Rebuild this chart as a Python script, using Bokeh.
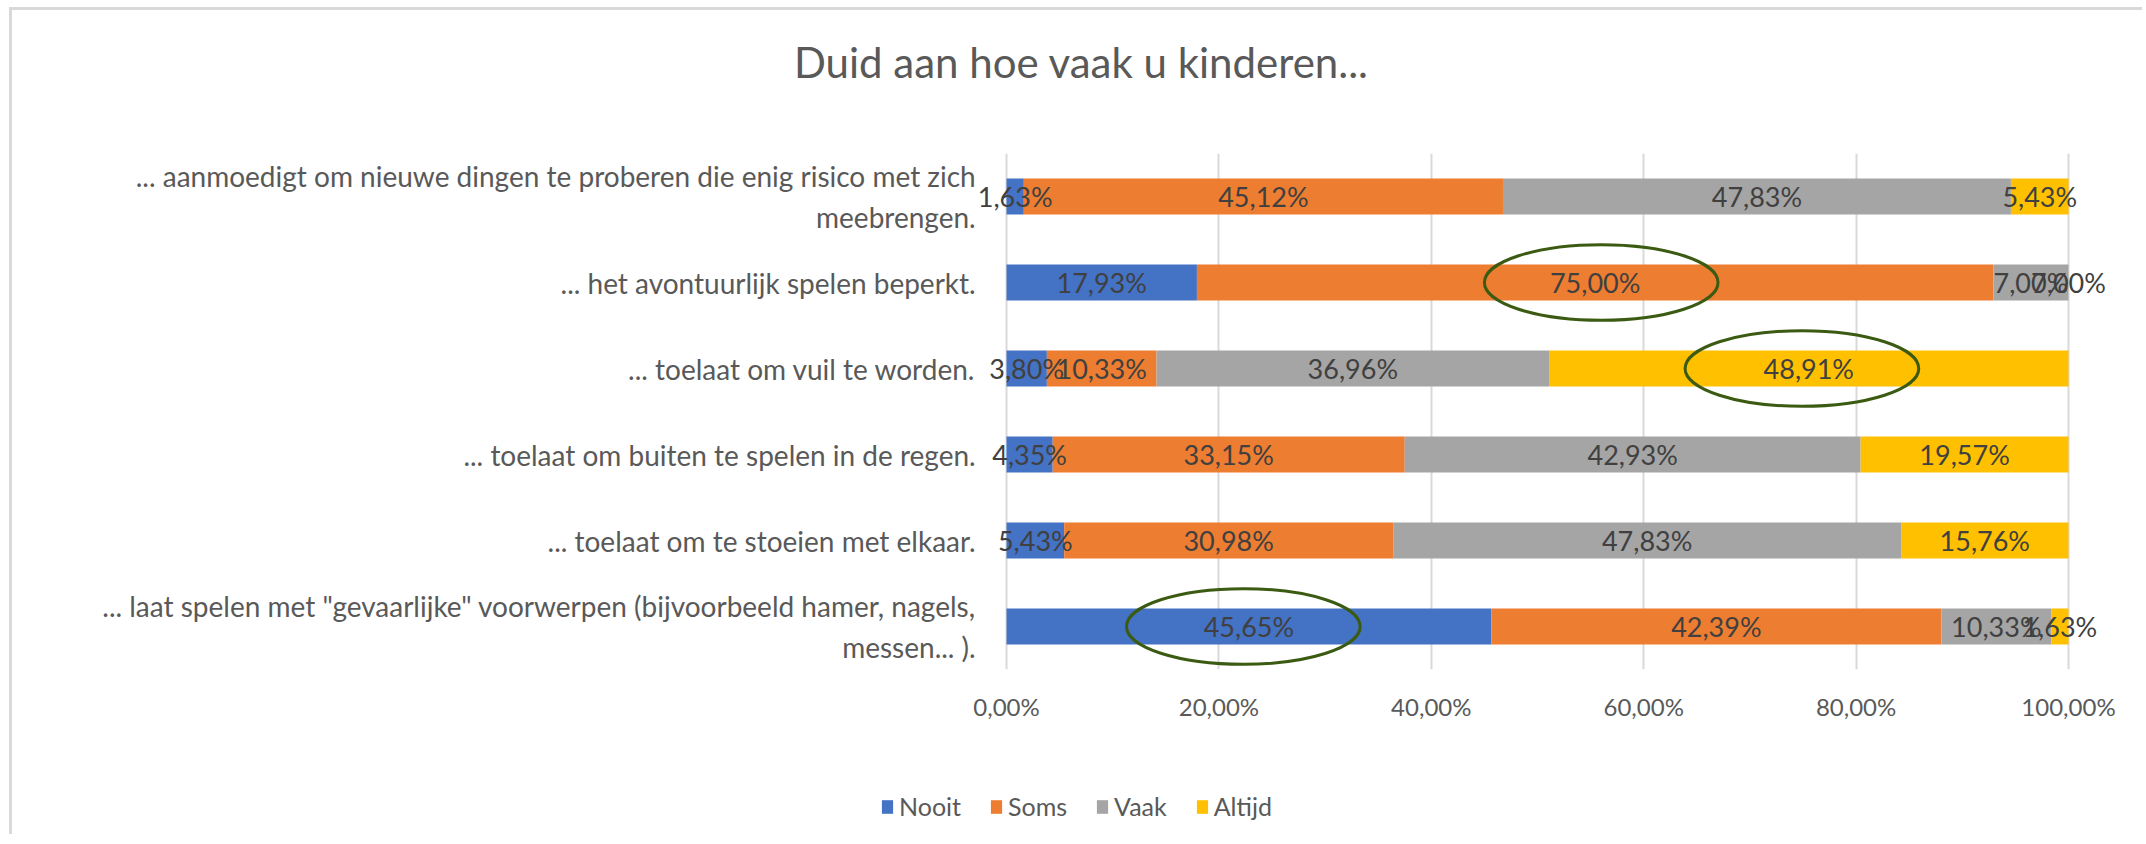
from bokeh.plotting import figure
from bokeh.layouts import column
from bokeh.models import (FactorRange, Range1d, FixedTicker, Legend, LegendItem, Label,
                          ColumnDataSource, LabelSet)
from bokeh.embed import file_html
from bokeh.resources import INLINE
from bokeh.core.properties import value

# ---------------- data ----------------
categories = [
    "... aanmoedigt om nieuwe dingen te proberen die enig risico met zich\nmeebrengen.",
    "... het avontuurlijk spelen beperkt.",
    "... toelaat om vuil te worden.",
    "... toelaat om buiten te spelen in de regen.",
    "... toelaat om te stoeien met elkaar.",
    '... laat spelen met "gevaarlijke" voorwerpen (bijvoorbeeld hamer, nagels,\nmessen... ).',
]
series = ["Nooit", "Soms", "Vaak", "Altijd"]
nooit = [1.63, 17.93, 3.80, 4.35, 5.43, 45.65]
soms = [45.12, 75.00, 10.33, 33.15, 30.98, 42.39]
vaak = [47.83, 7.07, 36.96, 42.93, 47.83, 10.33]
altijd = [5.43, 0.00, 48.91, 19.57, 15.76, 1.63]
tick_values = [0, 20, 40, 60, 80, 100]
tick_labels = ["0,00%", "20,00%", "40,00%", "60,00%", "80,00%", "100,00%"]
title_text = "Duid aan hoe vaak u kinderen..."
# highlighted (circled) labels: row, x-centre in %
highlight_rows = [categories[1], categories[2], categories[5]]
highlight_x = [56.0, 74.9, 22.3]

colors = ["#4472C4", "#ED7D31", "#A5A5A5", "#FFC000"]
FONT = "Lato"
TXT = "#595959"
W = 2130
# layout: the plot frame spans the full width; the 0-100 % scale sits inside it
X_LO, X_HI = -93.6, 106.97
LABEL_X = -2.9

# ---------------- title strip ----------------
tf = figure(width=W, height=143, x_range=Range1d(0, 1), y_range=Range1d(0, 1),
            output_backend="svg", toolbar_location=None, min_border=0,
            x_axis_location=None, y_axis_location=None)
tf.outline_line_color = None
tf.grid.visible = False
tf.add_layout(Label(x=1069, y=92, x_units="screen", y_units="screen", text=title_text,
                    text_align="center", text_baseline="alphabetic",
                    text_font=FONT, text_font_size="42px", text_color=TXT))

# ---------------- main chart ----------------
src = ColumnDataSource(dict(cat=categories, Nooit=nooit, Soms=soms, Vaak=vaak, Altijd=altijd))

p = figure(width=W, height=607,
           y_range=FactorRange(*categories[::-1]), x_range=Range1d(X_LO, X_HI),
           output_backend="svg", toolbar_location=None, y_axis_location=None,
           min_border_left=0, min_border_right=0,
           min_border_top=0, min_border_bottom=91)
p.outline_line_color = None

rs = p.hbar_stack(series, y="cat", height=0.42, color=colors, line_color=None, source=src)

# category labels (left of the 0 % line)
p.text(x=LABEL_X, y="cat", text="cat", source=src, text_align="right",
       text_baseline="middle", text_font=value(FONT), text_font_size="28px",
       text_color=TXT)

# data labels
vals = [nooit, soms, vaak, altijd]
lx, ly, lt = [], [], []
for i, c in enumerate(categories):
    cum = 0.0
    for s in range(4):
        v = vals[s][i]
        lx.append(cum + v / 2)
        ly.append(c)
        lt.append(f"{v:.2f}".replace(".", ",") + "%")
        cum += v
lsrc = ColumnDataSource(dict(x=lx, y=ly, t=lt))
p.add_layout(LabelSet(x="x", y="y", text="t", source=lsrc, text_align="center",
                      text_baseline="middle", text_font=value(FONT), text_font_size="27px",
                      text_color="#404040"))

# circled highlights
p.ellipse(x=highlight_x, y=highlight_rows, width=22, height=0.88,
          fill_color=None, line_color="#3B5B12", line_width=3)

# x axis
p.xaxis.ticker = FixedTicker(ticks=tick_values)
p.xaxis.major_label_overrides = {t: l for t, l in zip(tick_values, tick_labels)}
p.xaxis.major_label_text_font = FONT
p.xaxis.major_label_text_font_size = "24px"
p.xaxis.major_label_text_color = TXT
p.xaxis.axis_line_color = None
p.xaxis.major_tick_line_color = None
p.xaxis.major_tick_out = 0
p.xaxis.minor_tick_line_color = None
p.xaxis.major_label_standoff = 22

p.xgrid.ticker = FixedTicker(ticks=tick_values)
p.xgrid.grid_line_color = "#D9D9D9"
p.xgrid.grid_line_width = 2
p.ygrid.grid_line_color = None

# ---------------- legend strip ----------------
lf = figure(width=W, height=74, x_range=Range1d(0, 1), y_range=Range1d(0, 1),
            output_backend="svg", toolbar_location=None, min_border=0,
            x_axis_location=None, y_axis_location=None)
lf.outline_line_color = None
lf.grid.visible = False
# proxy renderers for the legend swatches (zero-size, outside the visible range)
lrs = [lf.hbar(y=[-5], left=[0], right=[0], height=0.0, fill_color=c, line_color=None)
       for c in colors]
legend = Legend(items=[LegendItem(label=s, renderers=[r]) for s, r in zip(series, lrs)],
                location=(868, 13), orientation="horizontal",
                glyph_width=14, glyph_height=17, label_standoff=5, spacing=28,
                padding=0, margin=0, border_line_color=None, background_fill_alpha=0,
                label_text_font=FONT, label_text_font_size="25px",
                label_text_color=TXT)
lf.add_layout(legend)

layout = column(tf, p, lf, spacing=0)
layout.styles = {"margin-left": "9px", "margin-top": "7px",
                 "border-left": "3px solid #D9D9D9", "border-top": "3px solid #D9D9D9"}

open("out.html", "w").write(file_html(layout, INLINE))
